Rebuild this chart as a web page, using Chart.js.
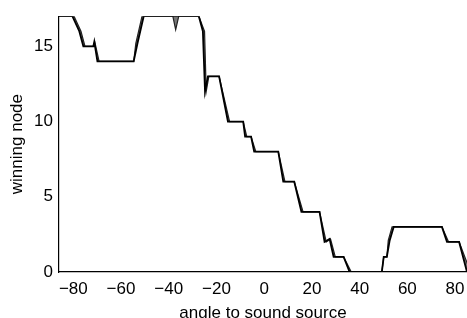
<!DOCTYPE html>
<html>
<head>
<meta charset="utf-8">
<script src="https://cdn.jsdelivr.net/npm/chart.js@4.4.0/dist/chart.umd.min.js"></script>
<style>
  html, body { margin: 0; padding: 0; background: #fff; }
  #wrap { width: 467px; height: 318px; }
</style>
</head>
<body>
<div id="wrap"><canvas id="myChart"></canvas></div>
<script>
// winning node vs angle (main trace)
const angleDeg = [-86, -80.4, -77.5, -75.8, -71.6, -71.2, -69.9, -54.7, -53.1, -50.5, -27.4, -25.7, -24.8, -23.6, -18.9, -15.2, -8.8, -8.0, -5.5, -4.2, 5.9, 8.0, 12.6, 15.6, 23.2, 25.3, 27.4, 29.1, 33.3, 35.8, 49.3, 50.1, 51.4, 52.6, 54.3, 74.5, 76.6, 81.7, 85];
const winningNode = [17, 17, 16, 15, 15, 15.3, 14, 14, 15.2, 17, 17, 16, 12, 13, 13, 10, 10, 9, 9, 8, 8, 6, 6, 4, 4, 2, 2.2, 1, 1, 0, 0, 1, 1, 2.1, 3, 3, 2, 2, 0];

// second trace, forms the grey spread
const spreadAngle = [-86, -79.7, -76.8, -75.1, -71.6, -71.0, -69.2, -54.7, -53.8, -51.2, -38.3, -37.1, -35.8, -27.4, -25.0, -24.3, -23.2, -18.9, -14.5, -8.8, -7.3, -5.5, -3.5, 5.9, 8.7, 12.6, 16.3, 23.2, 26.0, 27.8, 29.8, 33.3, 36.5, 49.3, 50.1, 51.4, 52.0, 53.6, 74.5, 77.3, 81.7, 86.5];
const spreadNode = [17, 17, 16, 15, 15, 15.3, 14, 14, 15.2, 17, 17, 16.1, 17, 17, 16, 12, 13, 13, 10, 10, 9, 9, 8, 8, 6, 6, 4, 4, 2, 2.2, 1, 1, 0, 0, 1, 1, 2.1, 3, 3, 2, 2, 0];

const xTicks = [-80, -60, -40, -20, 0, 20, 40, 60, 80];
const yTicks = [0, 5, 10, 15];

const fontFamily = '"Liberation Sans", Arial, Helvetica, sans-serif';

function toPoints(xs, ys) {
  return xs.map((x, i) => ({ x: x, y: ys[i] }));
}

function minusLabel(v) {
  return v < 0 ? '\u2212' + Math.abs(v) : String(v);
}

const ctx = document.getElementById('myChart').getContext('2d');

new Chart(ctx, {
  type: 'line',
  data: {
    datasets: [
      {
        label: 'main',
        data: toPoints(angleDeg, winningNode),
        borderColor: '#000',
        borderWidth: 1.8,
        pointRadius: 0,
        tension: 0,
        fill: false
      },
      {
        label: 'spread',
        data: toPoints(spreadAngle, spreadNode),
        borderColor: '#222',
        borderWidth: 1.2,
        backgroundColor: '#777',
        pointRadius: 0,
        tension: 0,
        fill: '-1'
      }
    ]
  },
  options: {
    responsive: true,
    maintainAspectRatio: false,
    animation: false,
    layout: { padding: { top: 12, right: 0, left: 0, bottom: 0 } },
    plugins: {
      legend: { display: false },
      tooltip: { enabled: false }
    },
    scales: {
      x: {
        type: 'linear',
        min: -86,
        max: 85,
        grid: { display: false, drawTicks: false },
        border: { display: true, color: '#000', width: 1.2 },
        afterBuildTicks: (s) => { s.ticks = xTicks.map(v => ({ value: v })); },
        afterFit: (s) => { s.height = 46; s.paddingRight = 0; },
        ticks: {
          color: '#000',
          padding: 7,
          maxRotation: 0,
          autoSkip: false,
          font: { family: fontFamily, size: 17 },
          callback: (v) => minusLabel(v)
        },
        title: {
          display: true,
          text: 'angle to sound source',
          color: '#000',
          padding: { top: 0, bottom: -6 },
          font: { family: fontFamily, size: 17 }
        }
      },
      y: {
        min: 0,
        max: 17,
        grid: { display: false, drawTicks: false },
        border: { display: true, color: '#000', width: 1.2 },
        afterBuildTicks: (s) => { s.ticks = yTicks.map(v => ({ value: v })); },
        afterFit: (s) => { s.width = 59; },
        ticks: {
          color: '#000',
          padding: 6,
          font: { family: fontFamily, size: 17 }
        },
        title: {
          display: true,
          text: 'winning node',
          color: '#000',
          padding: { top: 7, bottom: 0 },
          font: { family: fontFamily, size: 17 }
        }
      }
    }
  }
});
</script>
</body>
</html>
